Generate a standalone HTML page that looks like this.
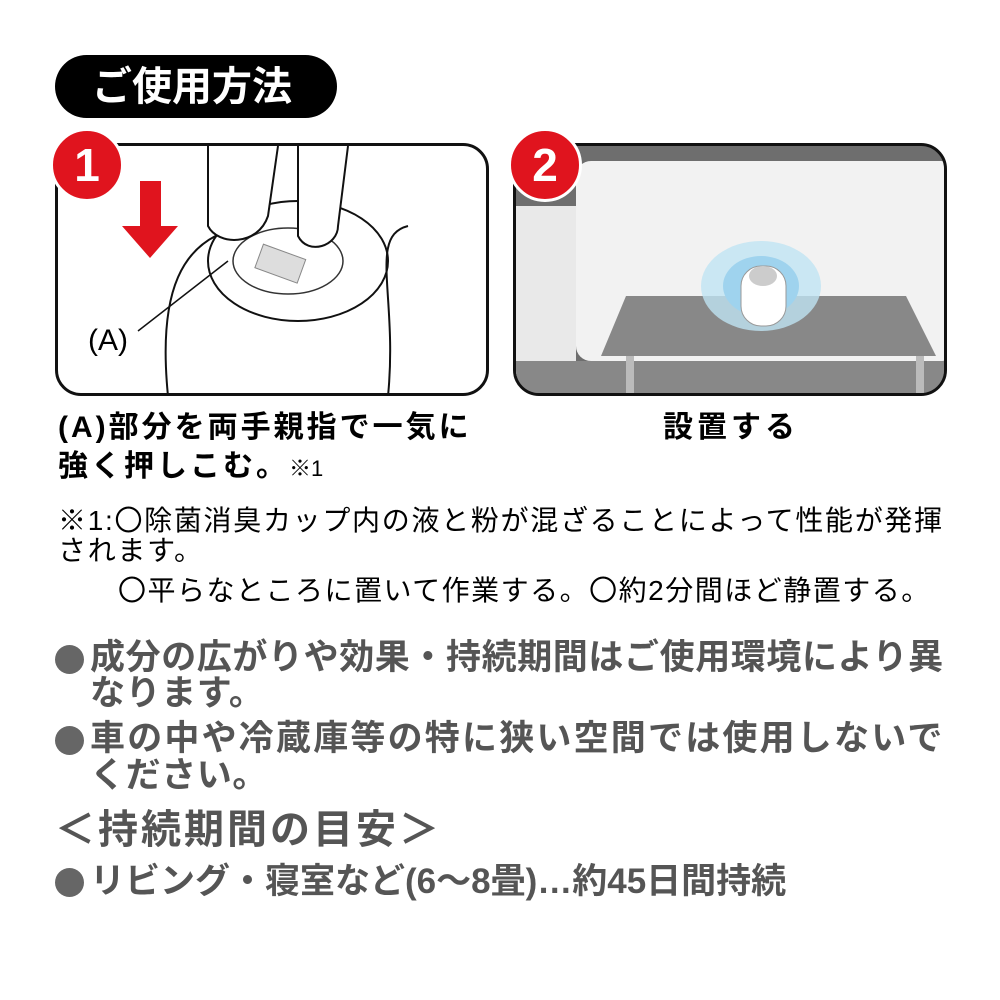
<!DOCTYPE html>
<html><head><meta charset="utf-8"><style>
body{margin:0;width:1000px;height:1000px;background:#fff;position:relative;overflow:hidden;font-family:"Liberation Sans","Noto Sans CJK JP",sans-serif}
.t{position:absolute;white-space:nowrap;line-height:1}
.g{color:#555;font-size:35px;font-weight:bold;letter-spacing:0.6px}
.dot{position:absolute;width:29px;height:29px;border-radius:50%;background:#666}
.panel{position:absolute;border:3px solid #111;border-radius:26px;overflow:hidden;box-sizing:border-box}
.num{position:absolute;width:68px;height:68px;border-radius:50%;background:#e0141e;color:#fff;font-weight:bold;font-size:46px;text-align:center;line-height:68px;border:3px solid #fff}
</style></head><body>
<div style="position:absolute;left:55px;top:55px;width:282px;height:63px;background:#000;border-radius:32px"></div>
<div class="t" style="left:92px;top:67px;color:#fff;font-size:40px;font-weight:bold">ご使用方法</div>

<div class="panel" style="left:55px;top:143px;width:434px;height:253px;background:#fff">
<svg width="434" height="253" style="position:absolute;left:0;top:0">
<path d="M110 250 C100 150 120 90 190 80 M350 80 C310 90 340 150 330 250" stroke="#111" stroke-width="2" fill="none"/>
<ellipse cx="240" cy="115" rx="90" ry="60" fill="none" stroke="#111" stroke-width="2"/>
<ellipse cx="230" cy="115" rx="55" ry="33" fill="none" stroke="#333" stroke-width="1.5"/>
<rect x="200" y="105" width="45" height="25" fill="#ddd" stroke="#888" transform="rotate(20 222 117)"/>
<path d="M150 0 L150 80 C160 100 200 100 210 70 L220 0 M240 0 L240 90 C250 110 280 100 280 80 L290 0" stroke="#111" stroke-width="2" fill="#fff"/>
<line x1="80" y1="185" x2="170" y2="115" stroke="#111" stroke-width="1.5"/>
<polygon points="82,35 103,35 103,80 120,80 92,112 64,80 82,80" fill="#e0141e"/>
</svg>
<div class="t" style="left:30px;top:180px;font-size:30px">(A)</div>
</div>
<div class="num" style="left:50px;top:128px">1</div>

<div class="panel" style="left:513px;top:143px;width:434px;height:253px;background:#6e6e6e">
<svg width="434" height="253" style="position:absolute;left:0;top:0">
<rect x="60" y="15" width="380" height="200" rx="15" fill="#f2f2f2"/>
<rect x="0" y="60" width="60" height="170" fill="#e9e9e9"/>
<rect x="0" y="215" width="434" height="40" fill="#888"/>
<polygon points="110,150 390,150 420,210 85,210" fill="#888"/>
<rect x="110" y="210" width="8" height="43" fill="#bbb"/><rect x="400" y="210" width="8" height="43" fill="#bbb"/>
<ellipse cx="245" cy="140" rx="60" ry="45" fill="#bfe3f3" opacity=".8"/>
<ellipse cx="245" cy="140" rx="38" ry="30" fill="#9fd3ee"/>
<rect x="225" y="120" width="45" height="60" rx="20" fill="#fff" stroke="#999"/>
<ellipse cx="247" cy="130" rx="14" ry="10" fill="#ccc"/>
</svg>
</div>
<div class="num" style="left:508px;top:128px">2</div>

<div class="t" style="left:58px;top:413px;font-size:30px;font-weight:bold;letter-spacing:3px">(A)部分を両手親指で一気に</div>
<div class="t" style="left:58px;top:452px;font-size:30px;font-weight:bold;letter-spacing:3px">強く押しこむ。<span style="font-size:22px;font-weight:normal;letter-spacing:0">※1</span></div>
<div class="t" style="left:663px;top:413px;font-size:30px;font-weight:bold;letter-spacing:4px">設置する</div>

<div class="t" style="left:58px;top:507px;font-size:28px;letter-spacing:1.7px">※1:〇除菌消臭カップ内の液と粉が混ざることによって性能が発揮</div>
<div class="t" style="left:58px;top:537px;font-size:28px;letter-spacing:1.7px">されます。</div>
<div class="t" style="left:118px;top:577px;font-size:28px;letter-spacing:1.5px">〇平らなところに置いて作業する。〇約2分間ほど静置する。</div>

<div class="dot" style="left:55px;top:645px"></div>
<div class="t g" style="left:90px;top:640px">成分の広がりや効果・持続期間はご使用環境により異</div>
<div class="t g" style="left:90px;top:676px">なります。</div>
<div class="dot" style="left:55px;top:726px"></div>
<div class="t g" style="left:90px;top:721px;letter-spacing:2.2px">車の中や冷蔵庫等の特に狭い空間では使用しないで</div>
<div class="t g" style="left:90px;top:758px">ください。</div>
<div class="t g" style="left:55px;top:810px;font-size:40px;letter-spacing:3px">＜持続期間の目安＞</div>
<div class="dot" style="left:55px;top:868px"></div>
<div class="t g" style="left:90px;top:864px;font-size:35px;letter-spacing:0">リビング・寝室など(6～8畳)…約45日間持続</div>
</body></html>
